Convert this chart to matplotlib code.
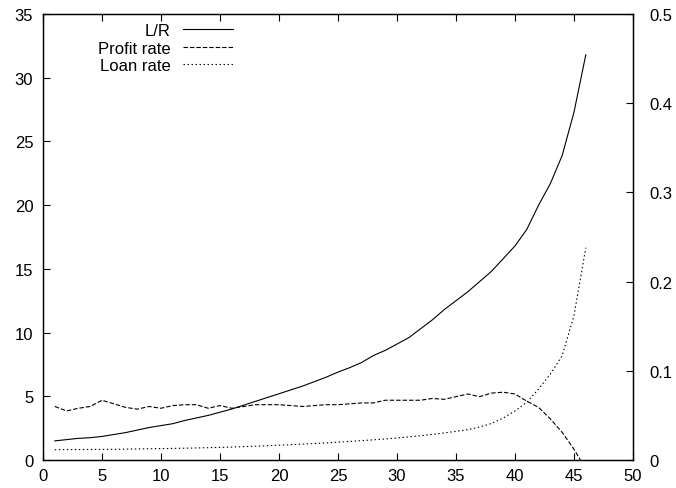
import matplotlib
matplotlib.use("Agg")
import matplotlib.pyplot as plt

plt.rcParams["font.family"] = ["Liberation Sans", "DejaVu Sans"]
plt.rcParams["font.size"] = 12

# ── Data ──────────────────────────────────────────────────────────────────────
steps = list(range(1, 47))

lr_ratio = [
    1.5, 1.6, 1.7, 1.75, 1.85, 2.0, 2.15, 2.35, 2.55, 2.7,
    2.85, 3.1, 3.3, 3.5, 3.75, 4.0, 4.3, 4.6, 4.9, 5.2,
    5.5, 5.8, 6.15, 6.5, 6.9, 7.25, 7.65, 8.2, 8.6, 9.1,
    9.6, 10.3, 11.0, 11.8, 12.5, 13.2, 14.0, 14.8, 15.8, 16.8,
    18.1, 20.0, 21.7, 23.9, 27.3, 31.8,
]

profit_rate = [
    0.060, 0.055, 0.058, 0.060, 0.067, 0.063, 0.059, 0.057, 0.060, 0.058,
    0.061, 0.062, 0.062, 0.058, 0.061, 0.058, 0.060, 0.062, 0.062, 0.062,
    0.061, 0.060, 0.061, 0.062, 0.062, 0.063, 0.064, 0.064, 0.067, 0.067,
    0.067, 0.067, 0.069, 0.068, 0.071, 0.074, 0.071, 0.075, 0.076, 0.074,
    0.066, 0.059, 0.046, 0.031, 0.012, -0.010,
]

loan_rate = [
    0.0115, 0.0116, 0.0117, 0.0118, 0.0119, 0.0120, 0.0122, 0.0124, 0.0126, 0.0128,
    0.0130, 0.0132, 0.0135, 0.0138, 0.0141, 0.0145, 0.0150, 0.0155, 0.0160, 0.0166,
    0.0172, 0.0178, 0.0185, 0.0192, 0.0200, 0.0208, 0.0217, 0.0226, 0.0236, 0.0247,
    0.0259, 0.0272, 0.0287, 0.0303, 0.0322, 0.0340, 0.0370, 0.0410, 0.0470, 0.0550,
    0.0647, 0.0796, 0.0964, 0.1170, 0.1620, 0.2380,
]

x_ticks = [0, 5, 10, 15, 20, 25, 30, 35, 40, 45, 50]
left_ticks = [0, 5, 10, 15, 20, 25, 30, 35]
right_ticks = [0, 0.1, 0.2, 0.3, 0.4, 0.5]
right_labels = ["0", "0.1", "0.2", "0.3", "0.4", "0.5"]

# ── Figure ────────────────────────────────────────────────────────────────────
fig = plt.figure(figsize=(6.76, 4.89), dpi=100)
ax = fig.add_axes([43 / 676, 28 / 489, 590 / 676, 446 / 489])
ax2 = ax.twinx()

lw = 0.8
h1, = ax.plot(steps, lr_ratio, color="black", lw=lw, label="L/R")
h2, = ax2.plot(steps, profit_rate, color="black", lw=lw,
               linestyle=(0, (4.0, 1.8)), label="Profit rate")
h3, = ax2.plot(steps, loan_rate, color="black", lw=lw,
               linestyle=(0, (1.3, 2.3)), label="Loan rate")

ax.set_xlim(0, 50)
ax.set_ylim(0, 35)
ax2.set_ylim(0, 0.5)

ax.set_xticks(x_ticks)
ax.set_yticks(left_ticks)
ax2.set_yticks(right_ticks, right_labels)

ax.tick_params(axis="x", direction="in", top=True, length=5, width=0.8, pad=5.5)
ax.tick_params(axis="y", direction="in", left=True, right=False, length=5, width=0.8, pad=7)
ax2.tick_params(axis="y", direction="in", left=False, right=True, length=5, width=0.8, pad=11.5)

for a in (ax, ax2):
    for s in a.spines.values():
        s.set_linewidth(0.9)

fig.legend(handles=[h1, h2, h3], loc="upper left",
           bbox_to_anchor=(98 / 676, 1 - 24 / 489), bbox_transform=fig.transFigure,
           frameon=False, markerfirst=False, borderpad=0, borderaxespad=0,
           handlelength=3.0, handletextpad=0.75, labelspacing=0.15, fontsize=12)

fig.savefig("out.png", dpi=100)
